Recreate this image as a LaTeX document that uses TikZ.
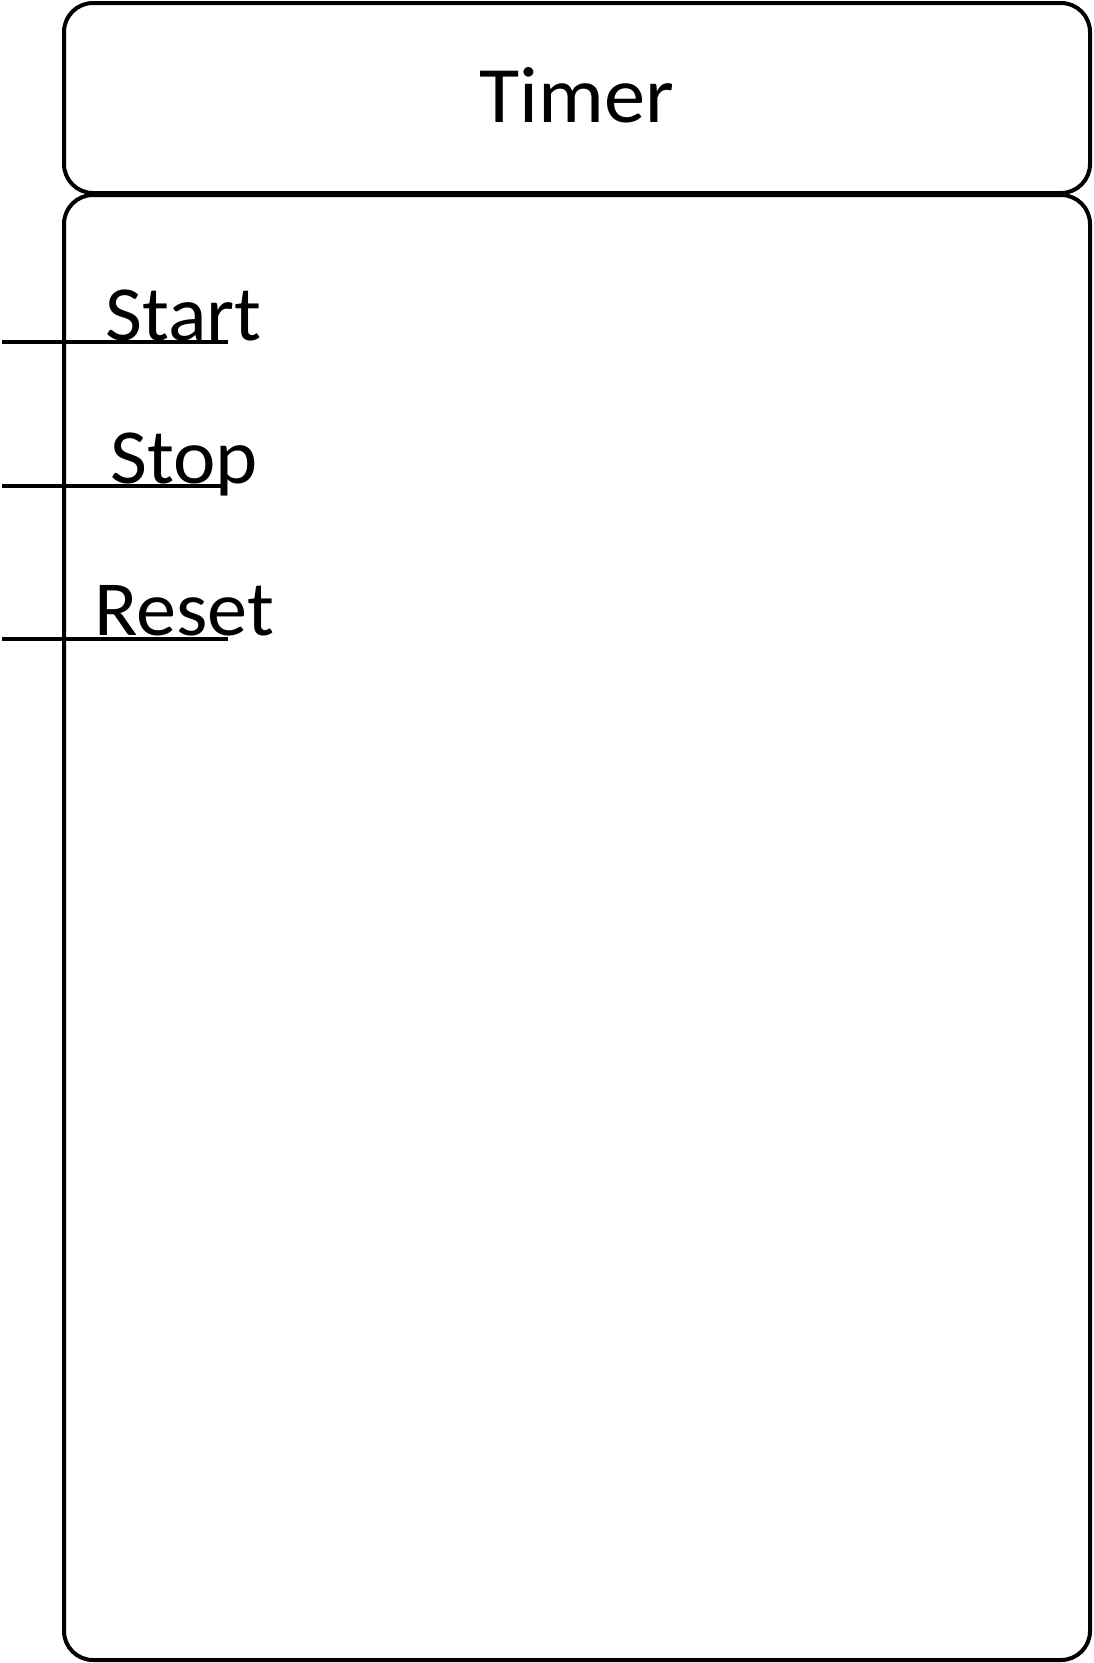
\documentclass[tikz,border=0pt]{standalone}
\usepackage{fontspec}
\setmainfont{Carlito}
\begin{document}
\begin{tikzpicture}[x=1pt,y=-1pt,
  boxstyle/.style={draw=black,line width=4pt,rounded corners=29pt},
  pinline/.style={draw=black,line width=4pt},
  lbl/.style={inner sep=0pt,anchor=base west,xscale=1.03,font=\fontsize{78}{82}\selectfont}]
\useasboundingbox[fill=white] (0,0) rectangle (1093,1663);
\draw[boxstyle] (64,3) rectangle (1090,193);
\draw[boxstyle] (64,195) rectangle (1090,1660);
\node[inner sep=0pt,anchor=base,xscale=1.03,font=\fontsize{80}{84}\selectfont] (title) at (577,122) {Timer};
\node[lbl] (start) at (105,340) {Start};
\node[lbl] (stop) at (110,483) {Stop};
\node[lbl] (reset) at (94,635) {Reset};
\coordinate (s1) at (2,342); \coordinate (s2) at (228,342);
\coordinate (t1) at (2,485.5); \coordinate (t2) at (224,485.5);
\coordinate (r1) at (2,639); \coordinate (r2) at (228,639);
\draw[pinline] (s1) -- (s2);
\draw[pinline] (t1) -- (t2);
\draw[pinline] (r1) -- (r2);
\end{tikzpicture}
\end{document}
